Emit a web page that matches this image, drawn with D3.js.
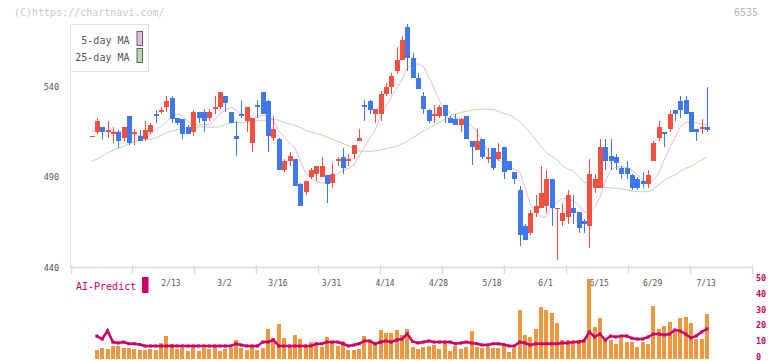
<!DOCTYPE html>
<html>
<head>
<meta charset="utf-8">
<script src="https://cdn.jsdelivr.net/npm/d3@7"></script>
<style>
  body { margin: 0; background: #fff; }
  text { font-family: "DejaVu Sans Mono", monospace; }
</style>
</head>
<body>
<svg id="chart"></svg>
<script>
// daily candles, oldest first
const opens = [513,515,518,515,514,515,512,524,514,513,
  511,515,525,526,529,534,523,522,518,515,
  526,526,523,528,529,535,526,513,525,521,
  509,530,537,532,512,511,494,499,500,486,
  482,490,492,490,491,487,499,501,499,503,
  510,530,532,525,525,536,540,549,555,573,
  556,545,535,527,524,524,530,523,522,519,
  524,510,505,511,500,506,500,507,499,493,
  483,463,459,470,473,474,489,473,466,468,
  473,471,466,463,484,484,507,502,501,495,
  495,491,489,488,486,499,512,515,517,527,
  532,533,526,517,517,518];
const highs = [513,523,518,521,518,516,518,524,517,516,
  521,520,527,529,535,535,523,522,519,527,
  526,528,528,535,537,535,526,521,532,529,
  523,533,537,533,524,512,500,504,500,487,
  488,495,496,501,491,498,501,506,503,508,
  517,533,533,528,538,542,548,562,568,575,
  559,548,537,528,530,530,530,524,525,523,
  524,510,517,511,506,506,509,507,499,493,
  485,464,472,480,496,494,489,473,476,483,
  480,471,467,500,492,511,511,511,503,496,
  499,492,490,493,494,510,521,515,527,527,
  535,535,526,517,522,540];
const lows = [513,514,511,512,509,506,510,508,508,510,
  510,514,520,525,526,520,519,511,514,513,
  520,515,521,525,528,526,520,502,523,515,
  504,523,525,504,510,494,493,496,485,474,
  480,489,488,490,476,484,496,492,496,500,
  510,521,525,520,521,535,536,547,555,549,
  545,539,525,520,520,523,520,520,519,515,
  511,497,505,500,498,494,499,489,494,486,
  452,455,458,468,473,470,463,444,463,464,
  464,459,459,451,481,484,494,494,494,489,
  489,483,483,484,484,499,510,507,515,521,
  523,525,515,510,514,515];
const closes = [513,521,515,516,515,510,518,509,515,510,
  516,519,524,527,532,522,520,514,514,526,
  523,521,526,529,537,531,520,511,524,529,
  523,529,525,513,517,494,499,502,485,474,
  488,494,496,496,486,492,500,495,500,508,
  512,529,527,528,536,540,546,555,566,556,
  545,539,528,521,525,529,524,520,519,522,
  511,507,510,501,501,495,504,493,494,489,
  458,455,470,474,481,489,473,473,470,480,
  470,462,464,492,489,507,499,499,498,492,
  492,484,484,486,491,509,518,514,525,525,
  527,525,515,515,518,516];

// moving averages as drawn on the chart
const ma5 = [515.7,515.7,515.7,515.4,515.3,515.1,515.1,514.9,514.0,512.9,
  512.5,514.0,516.2,518.1,520.7,523.5,525.0,524.0,521.2,519.3,
  519.0,519.0,519.0,521.8,525.1,527.3,528.8,527.3,525.1,524.0,
  522.6,523.5,524.3,524.0,521.8,515.7,512.4,509.0,506.3,499.1,
  492.4,489.6,487.6,486.7,487.4,490.2,491.8,493.8,494.9,496.8,
  501.8,506.8,511.8,516.2,523.5,529.0,534.5,539.0,544.0,550.6,
  552.6,552.8,551.2,545.6,539.5,532.3,527.9,525.7,522.9,521.8,
  520.1,518.5,515.1,510.7,504.6,501.3,499.6,498.0,496.3,494.6,
  493.0,484.6,474.7,470.8,467.7,468.2,473.5,476.3,478.3,478.0,
  476.9,474.7,470.8,470.2,473.0,479.1,487.4,494.1,495.7,495.9,
  495.3,494.1,491.3,488.0,487.0,488.5,492.4,499.6,506.3,511.8,
  517.9,520.3,520.3,520.1,519.6,519.0];
const ma25 = [499.1,499.9,501.8,503.5,504.9,506.0,507.1,508.5,509.6,510.4,
  510.7,511.0,511.8,513.2,514.6,515.7,516.2,516.8,517.1,517.6,
  517.9,517.9,517.7,517.7,517.9,519.3,520.1,520.3,520.3,520.7,
  521.0,521.2,521.5,521.8,522.1,521.5,520.4,519.6,518.7,517.6,
  515.9,515.1,514.4,513.5,512.2,511.0,509.9,508.8,507.4,506.0,
  504.6,504.4,504.4,504.6,505.2,505.7,506.5,507.1,508.5,509.9,
  511.8,513.8,515.7,517.1,518.7,520.4,522.1,523.7,525.1,525.9,
  526.5,527.1,527.6,527.7,527.7,527.6,526.5,525.4,524.6,522.9,
  520.8,517.9,514.6,510.7,507.1,503.5,501.6,499.6,496.3,494.6,
  493.5,490.2,487.4,486.3,485.2,484.6,484.4,484.1,483.9,483.5,
  483.0,482.4,482.0,482.0,482.0,483.5,486.0,488.2,489.9,491.3,
  493.2,495.0,496.0,497.8,499.6,501.3];

// lower panel
const volume = [null,5.1,6.1,5.7,7.6,7.6,6.3,6.3,5.7,5.1,
  5.1,5.7,5.3,9.5,13.9,8.9,5.7,6.3,4.4,7,
  4.4,6.3,5.7,7,4.4,5.7,6.3,11.4,6.3,5.1,
  7,5.1,6.3,18.4,12.7,21.5,12.7,7.6,14.6,12,
  7.6,10.1,8.9,7,13.3,10.1,7.6,10.8,5.1,5.1,
  5.7,13.9,10.1,10.1,17.7,15.8,15.8,17.7,14.6,18.4,
  7,5.7,7,7.6,8.2,5.7,10.1,4.4,7.6,5.7,
  7,17.1,7,6.3,7,6.3,6.3,8.2,3.8,6.3,
  30.4,14.6,13.3,18.4,32.3,30.4,28.5,22.2,11.4,11.4,
  10.8,11.4,12,50,19.6,25.3,11.4,11.4,8.9,12.7,
  10.1,10.1,7,10.1,8.9,32.9,18.4,20.3,22.8,16.5,
  25.3,25.9,22.2,12,12,27.8];
const aiPredict = [null,13.9,12,17.3,10.1,9.5,10.1,9,9,8.5,
  7.6,7.6,7.6,7.6,7.6,7.6,7.6,7.6,7.6,7.6,
  7.6,7.6,7.6,7.6,7.6,7.6,7.6,9,8.2,7.6,
  7.6,7.6,10.1,10.1,11.4,7.6,7.6,7.6,7.6,7.6,
  7.6,7.6,9,9,10.1,10.1,10.1,9,7.6,8.2,
  9,10.8,10.8,9,10.1,10.8,10.1,11.4,12,15.2,
  10.5,9.5,10.1,10.8,10.1,10.1,10.1,10.1,9,9.5,
  10.1,9.5,9,8.2,8.2,9,9,8.5,7.6,7.6,
  10.1,9.5,8.2,9,9,9,9,9,9.5,9.5,
  10.1,10.1,10.8,16.5,13.3,15.2,11.4,13.9,13.3,13.9,
  13.9,12.5,12,12,13.3,15.2,15.2,14.6,15.2,17.7,
  17.1,15.2,12.7,14,16.5,18.4];

const dateIdx = [14,24,34,44,54,64,74,84,94,104,114];
const dateLabels = ["2/13","3/2","3/16","3/31","4/14","4/28","5/18","6/1","6/15","6/29","7/13"];
const priceTicks = [440,490,540];
const volTicks = [0,10,20,30,40,50];

const W = 772, H = 361;
const upColor = "#f3503f", downColor = "#3e78ec";
const aiColor = "#cc0066";

const svg = d3.select("#chart").attr("width", W).attr("height", H);

const x = d3.scaleLinear().domain([0, opens.length - 1]).range([91.5, 707]);
const y = d3.scaleLinear().domain([440, 540]).range([267.5, 87]);
const yVol = d3.scaleLinear().domain([0, 50]).range([358, 279]);
const grid = d3.scaleLinear().domain([0, 11]).range([70.5, 751.5]);

// header texts
svg.append("text").attr("x", 14).attr("y", 15.5)
  .style("font-size", "10px").attr("fill", "#c8c8c8").text("(C)https://chartnavi.com/");
svg.append("text").attr("x", 758).attr("y", 15.5).attr("text-anchor", "end")
  .style("font-size", "10px").attr("fill", "#b8b8b8").text("6535");

// frame + axis
svg.append("line").attr("x1", 70.5).attr("x2", 70.5).attr("y1", 24).attr("y2", 267.5)
  .attr("stroke", "#e2e2e2");
svg.append("line").attr("x1", 70.5).attr("x2", 751.5).attr("y1", 267.5).attr("y2", 267.5)
  .attr("stroke", "#dcdcdc").attr("stroke-width", 1.5);
svg.append("g").selectAll("line").data(d3.range(12)).join("line")
  .attr("x1", d => Math.round(grid(d)) + 0.5).attr("x2", d => Math.round(grid(d)) + 0.5)
  .attr("y1", 265).attr("y2", 274).attr("stroke", "#dcdcdc").attr("stroke-width", 1.5);

// price labels
svg.append("g").selectAll("text").data(priceTicks).join("text")
  .attr("x", 59).attr("y", d => y(d) + 3).attr("text-anchor", "end")
  .style("font-size", "8.5px").attr("fill", "#555").text(d => d);

// date labels
svg.append("g").selectAll("text").data(dateIdx).join("text")
  .attr("x", d => x(d) + 4.5).attr("y", 285.5).attr("text-anchor", "middle")
  .style("font-size", "8px").attr("fill", "#555").text((d, i) => dateLabels[i]);

// moving averages
const maLine = d3.line().x((d, i) => x(i)).y(d => y(d));
svg.append("path").datum(ma25).attr("d", maLine)
  .attr("fill", "none").attr("stroke", "#b6dbab").attr("stroke-width", 1);
svg.append("path").datum(ma5).attr("d", maLine)
  .attr("fill", "none").attr("stroke", "#e9b6ea").attr("stroke-width", 1);

// candles
const candles = svg.append("g").attr("shape-rendering", "crispEdges")
  .selectAll("g").data(opens).join("g");
candles.append("line")
  .attr("x1", (d, i) => Math.round(x(i)) + 0.5).attr("x2", (d, i) => Math.round(x(i)) + 0.5)
  .attr("y1", (d, i) => y(highs[i])).attr("y2", (d, i) => y(lows[i]))
  .attr("stroke", (d, i) => closes[i] >= d ? upColor : downColor);
candles.append("rect")
  .attr("x", (d, i) => Math.round(x(i)) - 2)
  .attr("width", 5)
  .attr("y", (d, i) => y(Math.max(d, closes[i])))
  .attr("height", (d, i) => Math.max(1, Math.abs(y(d) - y(closes[i]))))
  .attr("fill", (d, i) => closes[i] >= d ? upColor : downColor);

// legend
svg.append("rect").attr("x", 70.5).attr("y", 24.5).attr("width", 78).attr("height", 47)
  .attr("fill", "#fff").attr("stroke", "#dedede");
const legendItems = [["5-day MA", "#e9b6ea"], ["25-day MA", "#b6dbab"]];
legendItems.forEach((it, k) => {
  svg.append("text").attr("x", 129.5).attr("y", 43.5 + k * 17).attr("text-anchor", "end")
    .style("font-size", "10px").attr("fill", "#555").text(it[0]);
  svg.append("rect").attr("x", 137).attr("y", 31.5 + k * 17).attr("width", 5.5).attr("height", 14)
    .attr("fill", it[1]).attr("stroke", "#666");
});

// volume bars (index-based so gaps keep their slot)
const volIdx = d3.range(volume.length).filter(i => volume[i] != null);
svg.append("g").attr("shape-rendering", "crispEdges")
  .selectAll("rect").data(volIdx).join("rect")
  .attr("x", i => Math.round(x(i)) - 2)
  .attr("width", 4)
  .attr("y", i => yVol(volume[i]))
  .attr("height", i => yVol(0) - yVol(volume[i]) + 1)
  .attr("fill", "#f0963e");

// AI predict line
const aiIdx = d3.range(aiPredict.length).filter(i => aiPredict[i] != null);
const aiLine = d3.line().x(i => x(i)).y(i => yVol(aiPredict[i]));
svg.append("path").datum(aiIdx).attr("d", aiLine)
  .attr("fill", "none").attr("stroke", aiColor).attr("stroke-width", 2.5);
svg.append("g").selectAll("rect").data(aiIdx).join("rect")
  .attr("x", i => x(i) - 1.5).attr("y", i => yVol(aiPredict[i]) - 1.5)
  .attr("width", 3).attr("height", 3).attr("fill", aiColor);

svg.append("text").attr("x", 76).attr("y", 289.5)
  .style("font-size", "10px").attr("fill", aiColor).text("AI-Predict");
svg.append("rect").attr("x", 142).attr("y", 277).attr("width", 6.5).attr("height", 16)
  .attr("fill", aiColor);

// volume axis labels
svg.append("g").selectAll("text").data(volTicks).join("text")
  .attr("x", 756).attr("y", d => yVol(d) + 2)
  .style("font-size", "8.5px").style("font-weight", "bold").attr("fill", aiColor).text(d => d);
</script>
</body>
</html>
